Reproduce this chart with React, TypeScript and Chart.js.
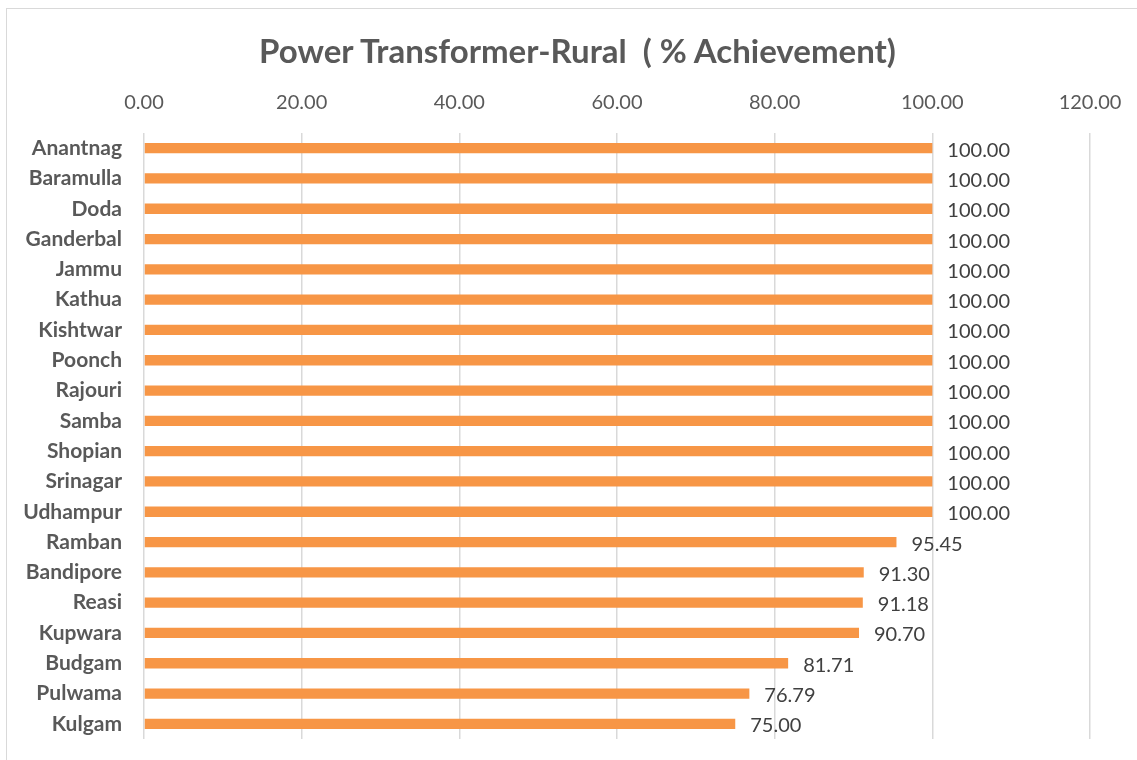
import React, { useEffect, useRef } from "react";
import { Chart, registerables } from "chart.js";

Chart.register(...registerables);

const titleText = "Power Transformer-Rural  ( % Achievement)";
const districts = [
  "Anantnag", "Baramulla", "Doda", "Ganderbal", "Jammu", "Kathua", "Kishtwar",
  "Poonch", "Rajouri", "Samba", "Shopian", "Srinagar", "Udhampur", "Ramban",
  "Bandipore", "Reasi", "Kupwara", "Budgam", "Pulwama", "Kulgam",
];
const achievement = [
  100, 100, 100, 100, 100, 100, 100, 100, 100, 100, 100, 100, 100,
  95.45, 91.3, 91.18, 90.7, 81.71, 76.79, 75.0,
];
const axisMin = 0;
const axisMax = 120;
const axisStep = 20;

const FONT = "Lato, 'Open Sans', sans-serif";
const TEXT = "#595959";

const dataLabels = {
  id: "dataLabels",
  afterDatasetsDraw(chart: any) {
    const ctx = chart.ctx;
    const meta = chart.getDatasetMeta(0);
    ctx.save();
    ctx.font = `20px ${FONT}`;
    ctx.fillStyle = "#404040";
    ctx.textAlign = "left";
    ctx.textBaseline = "middle";
    meta.data.forEach((bar: any, i: number) => {
      const v = chart.data.datasets[0].data[i] as number;
      ctx.fillText(v.toFixed(2), bar.x + 15, bar.y + 2);
    });
    ctx.restore();
  },
};

export default function App() {
  const ref = useRef<HTMLCanvasElement>(null);
  useEffect(() => {
    if (!ref.current) return;
    const chart = new Chart(ref.current, {
      type: "bar",
      data: {
        labels: districts,
        datasets: [
          {
            data: achievement,
            backgroundColor: "#F79646",
            borderWidth: 0,
            categoryPercentage: 1,
            barPercentage: 0.34,
          },
        ],
      },
      options: {
        indexAxis: "y",
        responsive: false,
        animation: false,
        layout: { padding: { left: 0, top: 69, right: 47, bottom: 21 } },
        plugins: {
          legend: { display: false },
          tooltip: { enabled: false },
          title: { display: false },
        },
        scales: {
          x: {
            position: "top",
            min: axisMin,
            max: axisMax,
            border: { display: false },
            grid: {
              color: "#d9d9d9",
              lineWidth: 1.5,
              drawTicks: true,
              tickLength: 18,
              tickColor: "rgba(0,0,0,0)",
            },
            ticks: {
              stepSize: axisStep,
              padding: 0,
              color: TEXT,
              font: { family: FONT, size: 20 },
              callback: (v: any) => Number(v).toFixed(2),
            },
            afterFit: (s: any) => {
              s.height = 133 - 69;
            },
          },
          y: {
            border: { display: false },
            grid: {
              display: true,
              drawOnChartArea: false,
              drawTicks: true,
              tickLength: 22,
              color: "rgba(0,0,0,0)",
            },
            ticks: {
              padding: 0,
              color: TEXT,
              font: { family: FONT, size: 21, weight: "bold" },
              autoSkip: false,
            },
            afterFit: (s: any) => {
              s.width = 144;
            },
          },
        },
      },
      plugins: [dataLabels],
    });
    return () => chart.destroy();
  }, []);

  return (
    <div
      style={{
        position: "fixed",
        left: 0,
        top: 0,
        width: 1137,
        height: 760,
        overflow: "hidden",
        background: "#fff",
      }}
    >
      <div
        style={{
          position: "absolute",
          left: 6,
          top: 8,
          width: 1300,
          height: 900,
          border: "1px solid #d9d9d9",
        }}
      />
      <canvas
        ref={ref}
        width={1137}
        height={760}
        style={{ position: "absolute", left: 0, top: 0, width: 1137, height: 760 }}
      />
      <div
        style={{
          position: "absolute",
          left: 0,
          top: 30,
          width: 1155,
          height: 40,
          lineHeight: "40px",
          textAlign: "center",
          whiteSpace: "pre",
          fontFamily: FONT,
          fontWeight: "bold",
          fontSize: 33,
          color: TEXT,
        }}
      >
        {titleText}
      </div>
    </div>
  );
}
